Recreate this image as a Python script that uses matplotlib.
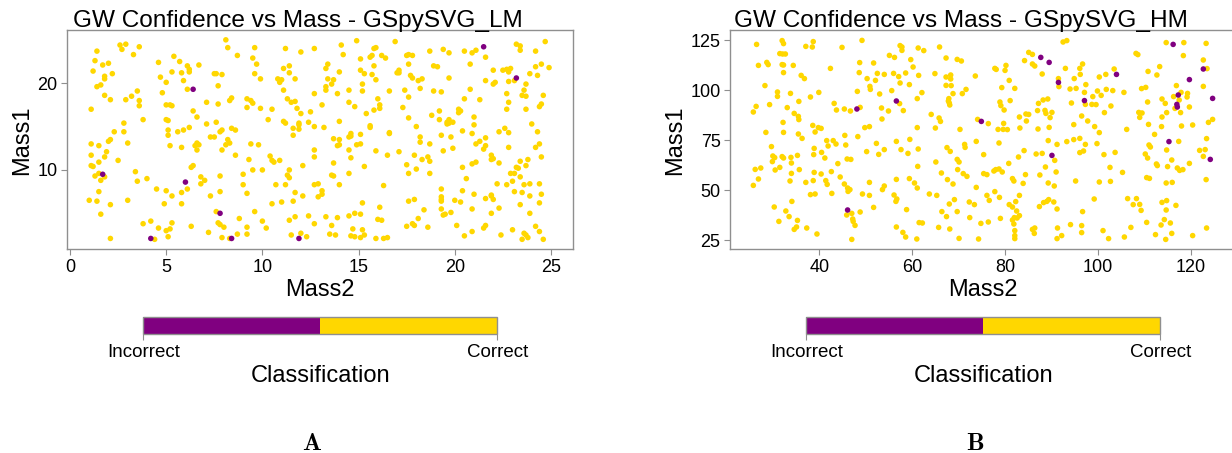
import matplotlib
matplotlib.use("Agg")
import matplotlib.pyplot as plt
from matplotlib.colors import ListedColormap
import numpy as np

plt.rcParams['font.family'] = ['Liberation Sans', 'DejaVu Sans']
plt.rcParams['mathtext.fontset'] = 'cm'

# --- data: (Mass2, Mass1) pairs ---
lm_correct = [
    (8.1, 25.0), (2.6, 24.4), (2.9, 24.5), (3.6, 24.2), (2.7, 23.9), (8.2, 24.1), (9.6, 24.1), (11.2, 24.0),
    (1.4, 23.7), (12.7, 24.0), (12.0, 23.6), (3.3, 23.3), (8.7, 23.2), (1.3, 22.6), (5.4, 23.1), (4.6, 22.4),
    (5.7, 22.5), (2.0, 22.3), (1.7, 22.1), (6.1, 22.0), (6.7, 22.1), (9.5, 22.9), (9.7, 22.2), (11.4, 22.0),
    (11.1, 21.7), (1.2, 21.4), (2.2, 21.1), (1.8, 20.8), (1.8, 20.5), (5.3, 21.3), (5.8, 21.2), (6.2, 21.3),
    (6.2, 21.6), (7.5, 21.1), (7.6, 21.1), (7.9, 21.0), (9.6, 21.1), (11.4, 21.2), (4.7, 20.7), (9.9, 20.5),
    (10.8, 20.5), (11.0, 20.4), (11.7, 20.5), (10.9, 20.1), (5.0, 20.1), (5.9, 20.3), (1.4, 19.6), (1.6, 19.8),
    (7.7, 19.7), (12.7, 18.8), (6.1, 19.3), (3.5, 19.1), (4.8, 18.9), (1.8, 18.6), (2.1, 18.1), (3.2, 18.5),
    (2.9, 18.1), (3.6, 18.0), (8.4, 18.3), (8.3, 18.0), (9.2, 18.2), (9.4, 18.0), (9.5, 17.7), (11.1, 19.2),
    (11.3, 18.2), (11.5, 17.8), (11.7, 17.9), (3.6, 17.4), (5.0, 17.5), (5.2, 17.5), (5.3, 17.4), (7.1, 17.8),
    (7.7, 17.6), (9.2, 17.2), (9.9, 17.1), (10.5, 17.0), (1.1, 17.0), (6.4, 16.8), (11.8, 17.1), (12.0, 16.5),
    (12.5, 16.7), (3.8, 15.8), (5.0, 15.8), (5.1, 15.7), (6.6, 16.1), (7.6, 15.5), (7.1, 15.3), (10.3, 15.8),
    (11.1, 15.6), (11.2, 15.4), (11.9, 15.4), (12.4, 15.5), (2.8, 15.4), (2.3, 14.4), (2.8, 14.4), (11.6, 14.8),
    (11.9, 14.7), (11.9, 15.2), (12.7, 15.0), (5.1, 14.6), (5.6, 14.4), (5.9, 14.6), (6.2, 14.9), (7.9, 14.6),
    (8.4, 14.8), (8.6, 14.6), (11.6, 14.0), (5.1, 14.0), (7.3, 13.8), (7.5, 13.8), (8.2, 13.5), (7.8, 14.4),
    (2.1, 13.5), (2.0, 13.3), (3.0, 13.1), (1.1, 13.0), (1.5, 12.8), (5.2, 12.8), (5.8, 12.6), (6.6, 13.1),
    (6.7, 12.9), (6.5, 12.8), (8.1, 12.9), (8.3, 13.1), (9.4, 13.0), (9.8, 12.9), (7.9, 12.3), (6.6, 12.3),
    (1.9, 12.1), (12.7, 12.3), (1.1, 11.7), (1.8, 11.5), (8.6, 11.7), (10.4, 11.6), (12.7, 11.5), (2.5, 11.1),
    (9.3, 11.2), (10.5, 11.1), (10.6, 10.9), (10.9, 11.1), (1.5, 10.9), (1.1, 10.5), (1.2, 10.4), (6.4, 10.5),
    (6.3, 10.3), (12.1, 10.5), (9.5, 10.0), (10.0, 10.0), (11.4, 10.0), (3.4, 9.8), (1.3, 9.3), (1.5, 9.6),
    (1.8, 9.2), (1.6, 8.8), (4.0, 9.0), (3.5, 8.7), (6.8, 9.2), (7.0, 8.8), (6.8, 8.4), (7.8, 9.3),
    (9.0, 9.5), (11.3, 9.4), (11.4, 9.1), (9.0, 8.3), (10.7, 8.3), (11.2, 8.3), (12.7, 8.3), (12.9, 8.4),
    (4.5, 7.8), (6.1, 7.8), (5.0, 7.6), (1.5, 7.5), (5.3, 7.0), (5.8, 7.4), (7.3, 7.0), (7.8, 7.5),
    (9.2, 7.3), (11.7, 7.4), (12.1, 7.0), (12.9, 6.9), (1.0, 6.5), (1.4, 6.4), (3.0, 6.5), (4.9, 6.1),
    (5.8, 6.1), (2.1, 6.0), (10.5, 6.1), (11.0, 6.3), (11.6, 6.4), (1.6, 4.9), (7.6, 5.2), (9.6, 5.2),
    (8.8, 4.4), (11.7, 4.6), (12.4, 4.7), (3.8, 3.8), (4.2, 4.1), (5.3, 3.9), (7.7, 3.9), (7.8, 3.7),
    (10.0, 4.1), (11.4, 4.2), (12.7, 3.8), (4.6, 3.3), (5.0, 3.0), (5.2, 3.2), (6.3, 3.5), (8.0, 3.4),
    (9.2, 3.4), (10.2, 3.3), (7.2, 2.8), (9.2, 2.6), (11.5, 2.5), (12.0, 2.7), (2.1, 2.1), (4.4, 2.0),
    (5.1, 2.3), (7.9, 2.2), (8.3, 2.1), (8.7, 2.6), (12.3, 2.3),
    (14.9, 24.9), (16.9, 24.8), (14.1, 24.4), (23.2, 24.5), (23.4, 24.3), (24.7, 24.8), (23.4, 23.8), (24.2, 23.7),
    (18.7, 23.7), (19.4, 23.9), (19.7, 23.5), (20.5, 23.7), (20.9, 23.5), (21.1, 23.8), (14.2, 23.3), (15.1, 22.8),
    (15.6, 23.0), (15.7, 23.2), (15.8, 24.0), (15.9, 24.1), (16.2, 23.2), (16.4, 22.9), (17.5, 23.2), (17.6, 23.3),
    (17.8, 23.2), (21.6, 23.0), (13.4, 22.2), (13.3, 21.7), (14.0, 21.3), (15.1, 21.5), (15.3, 21.1), (15.8, 22.0),
    (15.7, 21.0), (15.9, 20.4), (17.0, 21.2), (17.1, 21.5), (17.1, 21.2), (17.6, 22.2), (17.7, 20.9), (17.8, 20.6),
    (18.1, 20.3), (18.3, 20.5), (18.9, 22.0), (19.1, 21.9), (19.7, 20.6), (20.8, 22.2), (22.0, 21.5), (22.5, 21.5),
    (22.7, 21.6), (22.8, 21.3), (22.9, 21.7), (23.1, 20.3), (22.8, 20.2), (23.9, 21.1), (24.2, 21.9), (24.5, 22.2),
    (24.9, 21.8), (24.3, 20.9), (13.4, 20.5), (13.7, 20.4), (13.6, 19.9), (13.3, 19.6), (13.3, 19.2), (15.2, 19.9),
    (15.2, 19.1), (14.5, 19.2), (13.9, 18.8), (16.6, 19.1), (17.4, 19.2), (17.6, 18.4), (18.2, 19.4), (18.9, 19.1),
    (19.3, 19.0), (20.8, 19.3), (21.6, 20.3), (22.0, 19.9), (22.1, 20.1), (22.7, 18.8), (23.7, 19.9), (23.6, 19.2),
    (23.5, 18.6), (23.7, 18.5), (24.6, 18.6), (16.0, 18.2), (14.5, 17.8), (14.8, 17.3), (16.1, 17.5), (16.1, 17.1),
    (15.8, 16.9), (13.1, 17.5), (15.4, 16.5), (17.3, 17.2), (18.8, 16.3), (19.2, 16.8), (19.2, 15.8), (20.2, 17.0),
    (20.3, 16.8), (20.2, 16.6), (20.5, 18.2), (21.3, 18.1), (22.8, 17.8), (22.7, 17.0), (23.7, 17.0), (24.4, 17.3),
    (24.5, 17.6), (21.0, 16.1), (14.0, 15.6), (17.6, 16.0), (19.6, 15.5), (19.6, 15.3), (19.7, 15.4), (19.7, 15.8),
    (19.9, 15.5), (15.6, 15.1), (15.6, 14.9), (13.2, 14.9), (18.0, 15.0), (21.0, 15.2), (20.4, 14.5), (22.6, 14.8),
    (22.8, 14.3), (22.3, 14.4), (24.0, 15.3), (24.3, 14.4), (13.7, 13.6), (14.0, 13.5), (14.0, 12.9), (13.9, 12.8),
    (14.5, 12.3), (14.6, 13.9), (14.6, 14.2), (14.5, 13.8), (15.1, 14.1), (15.1, 13.0), (14.9, 12.9), (16.6, 14.2),
    (16.6, 14.3), (18.2, 13.8), (18.2, 13.2), (18.7, 13.0), (19.3, 14.0), (19.8, 13.8), (20.9, 14.2), (21.1, 13.0),
    (21.3, 13.3), (21.6, 13.7), (21.5, 12.4), (21.6, 12.8), (22.8, 12.6), (24.2, 12.6), (24.4, 13.0), (15.9, 12.2),
    (16.5, 11.7), (17.1, 12.1), (17.9, 11.7), (18.3, 11.2), (18.6, 11.5), (18.7, 11.0), (14.6, 11.4), (19.4, 12.2),
    (19.9, 12.5), (21.9, 11.7), (22.0, 11.3), (21.9, 11.2), (22.3, 10.8), (20.9, 10.7), (21.1, 10.9), (23.4, 11.0),
    (23.8, 11.2), (24.5, 11.5), (13.7, 10.8), (15.3, 10.4), (17.5, 10.6), (18.0, 10.1), (20.4, 10.3), (23.2, 10.3),
    (23.3, 10.2), (23.7, 10.5), (14.5, 9.6), (13.7, 9.3), (13.6, 9.4), (17.6, 9.6), (18.7, 9.6), (20.6, 9.0),
    (22.9, 9.6), (23.1, 9.6), (23.4, 9.2), (23.0, 8.7), (22.2, 8.4), (22.7, 8.3), (23.6, 8.3), (23.9, 8.4),
    (24.4, 8.4), (14.0, 8.3), (16.3, 8.2), (19.3, 7.8), (13.1, 7.6), (13.1, 7.2), (20.4, 7.6), (21.0, 7.2),
    (21.9, 7.1), (21.9, 7.0), (21.6, 6.7), (22.0, 6.6), (23.1, 7.5), (23.5, 7.4), (23.9, 7.0), (24.5, 7.2),
    (19.3, 6.9), (19.3, 6.6), (19.3, 6.4), (17.6, 6.4), (17.9, 6.6), (15.2, 6.2), (20.0, 6.5), (20.3, 6.3),
    (16.1, 5.7), (24.4, 6.2), (23.4, 6.0), (22.3, 5.6), (18.4, 5.4), (19.3, 5.5), (20.9, 5.5), (19.5, 4.9),
    (19.4, 4.8), (19.8, 5.1), (14.8, 5.0), (15.1, 4.9), (14.5, 4.7), (13.9, 4.5), (13.3, 4.6), (21.9, 5.0),
    (23.9, 5.0), (16.0, 4.3), (16.2, 4.2), (18.1, 4.4), (13.6, 3.6), (17.8, 3.8), (17.9, 3.6), (17.5, 3.5),
    (18.6, 3.4), (20.1, 3.6), (21.6, 3.6), (21.5, 3.3), (14.7, 3.2), (15.2, 3.1), (24.2, 3.5), (23.0, 3.1),
    (24.4, 2.9), (13.5, 2.6), (13.8, 2.5), (14.6, 2.4), (14.8, 2.3), (15.1, 2.2), (15.3, 2.5), (15.9, 2.1),
    (16.3, 2.1), (16.5, 2.2), (20.5, 2.4), (20.9, 2.9), (22.4, 2.5), (23.6, 2.7), (23.7, 2.5), (23.8, 2.2),
    (23.5, 2.0), (24.6, 2.0),
]
lm_incorrect = [
    (6.4, 19.3), (1.7, 9.5), (6.0, 8.6), (7.8, 5.0), (4.2, 2.1), (8.4, 2.1), (11.9, 2.1),
    (21.5, 24.2), (23.2, 20.6),
]

hm_correct = [
    (26.5, 122.8), (32.0, 124.7), (32.3, 123.2), (37.1, 121.8), (38.5, 121.5), (38.7, 124.2), (44.9, 121.3),
    (49.2, 124.8), (31.5, 118.2), (32.1, 118.0), (32.7, 118.0), (26.9, 112.3), (28.7, 113.8), (29.0, 112.7),
    (32.0, 112.7), (32.3, 112.5), (34.4, 112.3), (32.3, 108.7), (42.4, 110.8), (48.7, 113.7), (51.7, 113.5),
    (55.1, 117.3), (56.2, 116.3), (57.4, 122.2), (57.8, 121.5), (57.8, 119.8), (61.3, 121.0), (62.5, 119.7),
    (65.9, 121.5), (67.3, 116.0), (69.7, 115.3), (70.6, 114.5), (59.7, 115.2), (60.2, 111.5), (36.1, 107.3),
    (36.8, 105.7), (28.3, 102.2), (31.0, 99.0), (31.0, 96.8), (33.8, 98.3), (39.9, 98.8), (38.1, 96.5),
    (48.6, 108.7), (52.5, 108.3), (54.0, 107.8), (56.0, 108.3), (57.1, 106.7), (58.6, 108.5), (61.4, 107.3),
    (50.3, 105.7), (52.1, 104.8), (50.9, 101.8), (51.0, 100.3), (53.0, 98.0), (55.6, 99.7), (57.4, 103.5),
    (59.4, 102.7), (48.2, 99.3), (64.9, 108.2), (67.3, 106.5), (68.3, 107.5), (68.3, 105.5), (67.3, 102.3),
    (68.4, 102.2), (68.8, 98.2), (71.6, 100.3), (70.8, 98.2), (73.6, 107.0), (62.1, 98.7), (61.1, 95.7),
    (35.6, 94.3), (29.3, 92.7), (26.4, 91.8), (25.8, 89.0), (33.1, 91.2), (34.6, 88.3), (35.5, 86.8),
    (35.6, 85.2), (43.2, 93.3), (43.7, 90.0), (45.4, 90.5), (46.7, 89.5), (48.8, 91.3), (53.4, 91.0),
    (54.9, 89.5), (57.3, 93.2), (58.1, 89.7), (67.9, 95.7), (67.8, 94.5), (68.0, 93.5), (68.1, 92.5),
    (64.1, 87.8), (65.8, 86.0), (66.1, 84.3), (74.1, 85.3), (76.4, 83.2), (32.2, 83.8), (32.3, 78.8),
    (28.5, 78.8), (38.6, 82.3), (39.8, 81.2), (40.4, 80.8), (39.1, 79.0), (35.5, 78.0), (36.3, 75.8),
    (48.3, 76.7), (49.8, 81.2), (50.8, 81.7), (53.5, 85.5), (61.1, 81.2), (65.0, 81.0), (70.3, 80.3),
    (45.5, 77.3), (41.6, 74.7), (43.0, 74.7), (43.6, 73.0), (41.9, 72.0), (56.6, 74.3), (59.5, 75.3),
    (52.3, 73.3), (73.8, 74.3), (29.7, 71.7), (30.0, 67.0), (30.4, 66.2), (29.9, 64.2), (32.0, 66.7),
    (32.3, 66.0), (33.9, 66.3), (34.0, 63.5), (35.3, 67.3), (38.9, 70.8), (38.8, 67.7), (40.5, 68.8),
    (41.2, 66.0), (44.0, 63.2), (45.7, 72.5), (46.0, 65.5), (46.8, 65.3), (50.2, 69.2), (52.8, 67.8),
    (54.0, 70.2), (57.6, 70.2), (59.1, 68.3), (61.3, 70.5), (67.5, 71.2), (68.2, 69.3), (71.3, 72.8),
    (71.4, 71.3), (75.4, 67.7), (69.7, 65.3), (70.1, 64.0), (65.1, 64.0), (61.2, 61.8), (26.2, 60.3),
    (27.4, 61.0), (30.5, 60.0), (31.5, 61.3), (35.7, 60.2), (34.0, 58.3), (33.7, 54.5), (37.1, 53.8),
    (38.9, 58.8), (38.7, 54.7), (40.4, 58.0), (41.4, 54.7), (41.7, 52.8), (42.6, 59.2), (44.5, 56.5),
    (45.4, 53.0), (46.1, 51.0), (46.6, 50.2), (46.2, 49.3), (50.8, 53.8), (54.0, 52.0), (53.6, 50.2),
    (26.9, 55.5), (25.8, 52.3), (56.6, 55.3), (59.4, 55.7), (60.5, 53.5), (61.1, 51.0), (66.3, 58.5),
    (67.6, 55.2), (69.8, 60.2), (71.0, 58.2), (71.8, 56.8), (68.8, 53.0), (73.8, 51.3), (75.4, 58.2),
    (76.1, 57.7), (38.1, 47.7), (39.1, 48.0), (42.7, 48.3), (49.3, 48.0), (50.8, 47.3), (56.1, 47.5),
    (56.7, 45.5), (56.5, 44.3), (63.7, 48.0), (65.3, 47.3), (69.1, 45.2), (68.0, 43.0), (76.1, 47.3),
    (76.6, 44.8), (72.3, 44.0), (73.4, 42.7), (34.1, 44.3), (30.3, 41.5), (32.8, 39.5), (33.5, 36.7),
    (51.7, 41.3), (45.9, 37.5), (47.0, 38.3), (48.8, 39.0), (47.2, 35.5), (47.3, 34.3), (47.7, 32.3),
    (58.8, 40.2), (66.4, 39.2), (69.7, 39.2), (67.4, 36.7), (31.3, 34.3), (35.3, 34.8), (35.1, 31.5),
    (34.6, 30.3), (37.3, 31.0), (39.5, 28.0), (47.0, 25.3), (56.6, 31.5), (58.0, 28.8), (58.6, 26.5),
    (61.0, 25.5), (61.5, 33.7), (62.2, 33.5), (65.7, 31.3), (68.1, 30.5), (70.1, 25.8), (72.4, 36.2),
    (74.3, 25.5), (74.8, 33.3), (76.4, 34.0),
    (92.5, 124.0), (93.3, 124.7), (85.1, 118.8), (85.9, 117.8), (84.2, 114.7), (85.9, 113.0), (86.4, 112.0),
    (77.8, 110.8), (78.1, 110.3), (80.2, 112.3), (80.0, 109.8), (88.0, 108.0), (93.0, 110.8), (96.1, 110.8),
    (96.7, 113.0), (96.2, 107.8), (91.5, 105.7), (91.6, 101.7), (94.9, 105.7), (97.4, 102.7), (94.0, 100.5),
    (95.3, 100.8), (100.3, 106.5), (101.7, 107.8), (103.5, 110.5), (105.6, 98.8), (108.2, 118.3), (108.6, 117.7),
    (110.8, 109.3), (112.7, 107.5), (113.3, 111.7), (114.7, 123.7), (118.5, 123.7), (118.4, 117.2), (123.3, 123.3),
    (122.7, 115.0), (123.5, 110.7), (122.7, 101.8), (80.9, 104.8), (79.3, 101.2), (82.1, 100.8), (99.9, 99.5),
    (100.7, 97.3), (101.8, 100.3), (103.2, 99.7), (97.1, 98.8), (97.3, 92.8), (98.9, 96.7), (98.7, 92.8),
    (99.6, 92.7), (102.8, 92.0), (101.4, 88.7), (94.3, 93.5), (89.2, 95.5), (88.2, 95.0), (87.2, 93.3),
    (87.0, 89.7), (88.6, 89.8), (88.8, 88.3), (90.1, 88.8), (89.7, 86.2), (84.5, 88.0), (85.1, 87.8),
    (83.1, 86.5), (84.6, 84.5), (81.1, 94.7), (78.9, 94.0), (79.1, 92.2), (79.8, 90.0), (109.4, 100.7),
    (110.3, 101.3), (110.7, 94.0), (108.8, 88.8), (109.5, 88.5), (109.0, 86.3), (113.8, 95.5), (114.5, 93.3),
    (116.3, 96.7), (116.9, 102.2), (117.9, 98.8), (117.5, 95.0), (119.3, 98.3), (119.2, 96.5), (119.7, 91.5),
    (116.6, 90.8), (117.8, 88.7), (114.8, 88.7), (113.8, 86.5), (78.5, 80.3), (79.7, 83.3), (79.6, 80.3),
    (80.5, 80.2), (83.2, 81.0), (87.1, 80.5), (89.5, 81.3), (94.8, 82.7), (96.5, 87.0), (97.8, 84.5),
    (99.3, 81.7), (100.3, 78.7), (106.2, 80.3), (110.9, 82.8), (112.2, 77.8), (113.7, 81.7), (118.0, 82.0),
    (120.4, 82.5), (123.8, 83.8), (124.7, 85.3), (123.4, 75.7), (78.7, 73.5), (89.3, 74.7), (91.2, 72.8),
    (93.3, 74.2), (94.8, 75.2), (96.1, 75.8), (97.3, 72.8), (99.8, 73.2), (84.1, 69.7), (82.9, 66.5),
    (86.7, 68.0), (88.0, 68.3), (90.7, 64.8), (96.1, 68.7), (96.9, 69.5), (101.3, 67.7), (103.7, 68.8),
    (110.2, 68.0), (110.7, 66.0), (111.0, 72.5), (111.3, 71.5), (117.4, 74.3), (114.8, 70.0), (115.9, 65.0),
    (112.6, 63.0), (112.8, 62.2), (115.0, 61.7), (117.1, 61.0), (117.6, 59.8), (118.3, 60.2), (119.7, 63.3),
    (121.9, 69.8), (123.1, 70.2), (122.7, 66.8), (80.8, 63.3), (88.7, 61.5), (91.0, 59.0), (102.6, 61.3),
    (77.6, 59.5), (78.0, 60.2), (78.7, 60.5), (79.4, 59.0), (81.6, 55.7), (81.9, 54.5), (83.9, 53.3),
    (87.5, 57.5), (84.4, 57.7), (89.3, 53.5), (90.6, 52.0), (95.2, 54.5), (100.3, 54.0), (102.7, 54.3),
    (105.3, 58.8), (110.5, 56.2), (111.1, 55.8), (114.7, 53.5), (116.0, 53.8), (123.3, 55.2), (77.8, 49.2),
    (78.8, 46.3), (83.1, 47.3), (82.3, 44.2), (88.3, 43.7), (89.0, 44.3), (89.4, 45.2), (90.5, 44.0),
    (87.4, 41.7), (91.2, 40.5), (99.2, 45.5), (106.4, 45.7), (108.3, 45.7), (107.6, 42.7), (109.0, 42.8),
    (109.3, 39.8), (113.8, 43.8), (114.8, 44.7), (114.7, 40.0), (116.8, 42.3), (80.9, 42.7), (81.6, 41.5),
    (82.5, 39.5), (83.1, 37.2), (82.6, 36.0), (82.0, 36.2), (81.6, 35.0), (81.9, 33.0), (79.0, 35.8),
    (96.7, 39.2), (94.1, 32.7), (96.5, 32.2), (96.5, 28.7), (91.3, 31.0), (91.2, 25.7), (92.2, 27.2),
    (85.9, 30.3), (86.4, 31.0), (86.3, 28.3), (82.1, 29.7), (82.1, 27.2), (82.1, 25.7), (101.1, 29.7),
    (102.3, 25.7), (105.7, 26.5), (107.1, 31.3), (110.5, 33.8), (112.4, 27.7), (113.6, 32.5), (114.3, 35.2),
    (115.6, 33.5), (114.6, 25.3), (115.9, 28.3), (120.4, 27.2), (123.4, 31.0),
]
hm_incorrect = [
    (48.1, 90.5), (56.6, 94.5), (74.9, 84.3), (46.1, 40.0),
    (87.7, 116.3), (89.5, 113.8), (91.5, 103.8), (104.0, 107.8), (116.2, 122.8), (122.7, 110.5),
    (119.7, 105.2), (97.1, 94.7), (117.3, 97.5), (117.0, 92.8), (117.1, 91.5), (124.7, 95.8),
    (90.1, 67.3), (115.3, 74.2), (124.2, 65.3),
]

class_names = ['Incorrect', 'Correct']
class_colors = ['#800080', '#FFD700']

lm_xticks = [0, 5, 10, 15, 20, 25]
lm_yticks = [10, 20]
hm_xticks = [40, 60, 80, 100, 120]
hm_yticks = [25, 50, 75, 100, 125]

W, H = 1232, 453
grey = '#8f8f8f'
cmap = ListedColormap(class_colors)

fig = plt.figure(figsize=(W / 100, H / 100), dpi=100)


def draw_panel(left_px, ok, bad, title, xlim, ylim, xticks, yticks, letter):
    ax = fig.add_axes([left_px / W, 1 - 249.3 / H, 506 / W, 219 / H])
    pts = np.array(ok + bad)
    cls = np.r_[np.ones(len(ok)), np.zeros(len(bad))]
    sc = ax.scatter(pts[:, 0], pts[:, 1], c=cls, cmap=cmap, vmin=0, vmax=1,
                    s=16, linewidths=0, zorder=3)
    ax.set_xlim(*xlim)
    ax.set_ylim(*ylim)
    ax.set_xticks(xticks)
    ax.set_yticks(yticks)
    for sp in ax.spines.values():
        sp.set_color(grey)
        sp.set_linewidth(1.0)
    ax.tick_params(colors=grey, labelcolor='black', labelsize=13, length=4, pad=3)
    ax.set_xlabel('Mass2', fontsize=17, labelpad=2)
    ax.set_ylabel('Mass1', fontsize=17, labelpad=3)
    ax.text(0.455, 1.016, title, transform=ax.transAxes, ha='center', va='baseline', fontsize=17.6)

    cx = left_px + 253 - 177
    cax = fig.add_axes([cx / W, 1 - 334.3 / H, 354 / W, 17.6 / H])
    cb = fig.colorbar(sc, cax=cax, orientation='horizontal', ticks=[0, 1])
    cb.set_ticklabels(class_names)
    cb.outline.set_edgecolor(grey)
    cb.outline.set_linewidth(1.0)
    cax.tick_params(colors=grey, labelcolor='black', labelsize=13.5, length=4, pad=3)
    cb.set_label('Classification', fontsize=17, labelpad=3)

    fig.text((left_px + 245) / W, 1 - 443 / H, r'$\mathbf{%s}$' % letter,
             ha='center', va='center', fontsize=18)


draw_panel(67.3, lm_correct, lm_incorrect, 'GW Confidence vs Mass - GSpySVG_LM',
           (-0.14, 26.16), (0.85, 26.1), lm_xticks, lm_yticks, 'A')
draw_panel(730.3, hm_correct, hm_incorrect, 'GW Confidence vs Mass - GSpySVG_HM',
           (20.84, 129.8), (20.35, 129.85), hm_xticks, hm_yticks, 'B')

fig.savefig('out.png', dpi=100, facecolor='white')
